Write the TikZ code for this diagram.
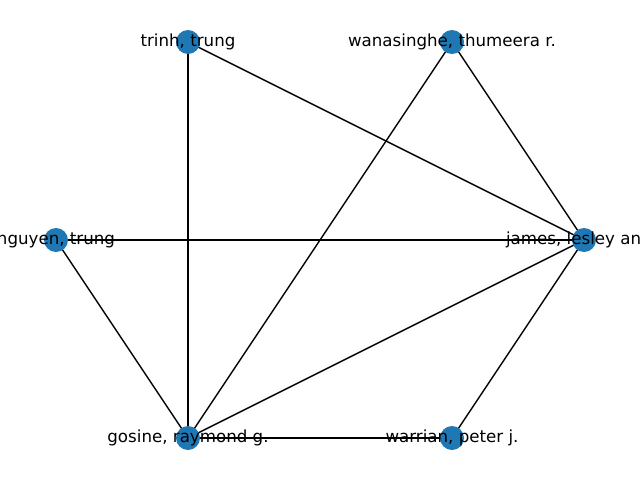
\documentclass[tikz,border=0pt]{standalone}
\usepackage{fontspec}
\setmainfont{DejaVu Sans}
\begin{document}
\begin{tikzpicture}[x=0.72pt,y=-0.72pt,
  vert/.style={circle,fill={rgb,255:red,31;green,119;blue,180},minimum size=24*0.72pt,inner sep=0pt},
  lbl/.style={font=\fontsize{12}{14}\selectfont,inner sep=0pt,text=black},
  edge/.style={draw=black,line width=1pt}]
\useasboundingbox (0,0) rectangle (640,480);
\clip (0,0) rectangle (640,480);
\coordinate (tr) at (188,42);
\coordinate (wa) at (452,42);
\coordinate (ng) at (56,240);
\coordinate (ja) at (584,240);
\coordinate (go) at (188,438);
\coordinate (wr) at (452,438);
\draw[edge] (tr) -- (ja);
\draw[edge] (tr) -- (go);
\draw[edge] (wa) -- (ja);
\draw[edge] (wa) -- (go);
\draw[edge] (ng) -- (ja);
\draw[edge] (ng) -- (go);
\draw[edge] (ja) -- (go);
\draw[edge] (ja) -- (wr);
\draw[edge] (go) -- (wr);
\node[vert] (ntr) at (tr) {};
\node[vert] (nwa) at (wa) {};
\node[vert] (nng) at (ng) {};
\node[vert] (nja) at (ja) {};
\node[vert] (ngo) at (go) {};
\node[vert] (nwr) at (wr) {};
\node[lbl] (ltr) at (tr) {trinh, trung};
\node[lbl] (lwa) at (wa) {wanasinghe, thumeera r.};
\node[lbl] (lng) at (ng) {nguyen, trung};
\node[lbl] (lja) at (ja) {james, lesley anne};
\node[lbl] (lgo) at (go) {gosine, raymond g.};
\node[lbl] (lwr) at (wr) {warrian, peter j.};
\end{tikzpicture}
\end{document}
